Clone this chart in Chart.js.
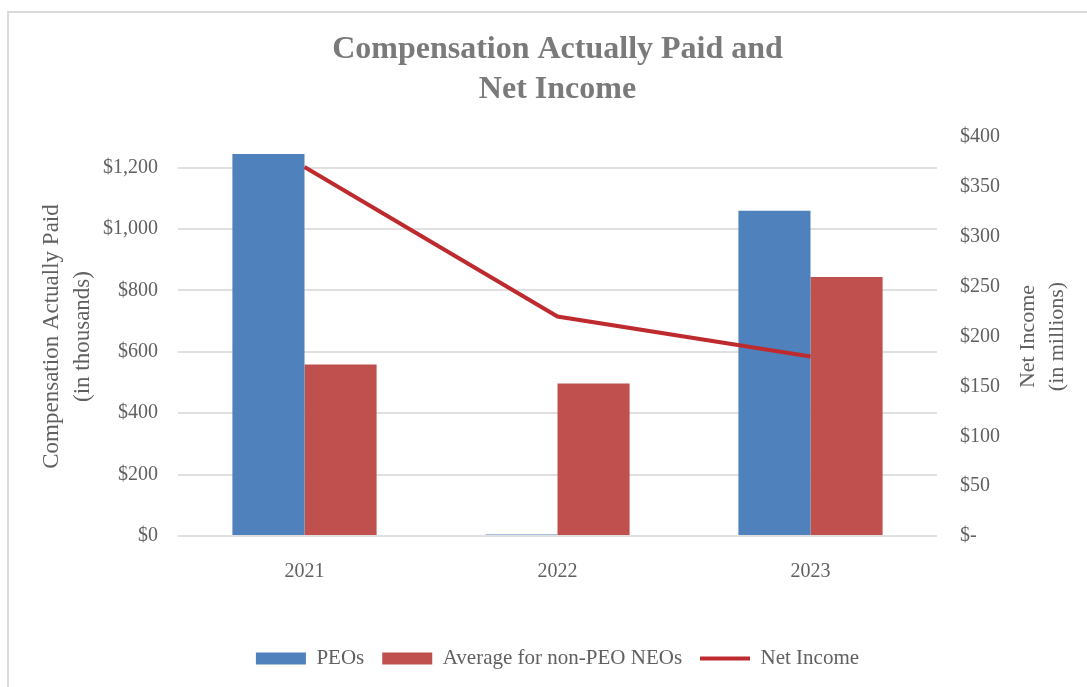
<!DOCTYPE html>
<html>
<head>
<meta charset="utf-8">
<title>Compensation Actually Paid and Net Income</title>
<script src="https://cdn.jsdelivr.net/npm/chart.js@4"></script>
<style>
    html, body { margin: 0; padding: 0; background: #fff; }
    #wrap { position: relative; width: 1087px; height: 687px; overflow: hidden; }
    #frame { position: absolute; left: 7px; top: 11px; width: 1100px; height: 700px; border: 2px solid #dadada; box-sizing: border-box; pointer-events: none; }
    canvas { position: absolute; left: 0; top: 0; }
</style>
</head>
<body>
<div id="wrap">
    <canvas id="capChart" width="1087" height="687"></canvas>
    <div id="frame"></div>
</div>
<script>
// data
const years = ["2021", "2022", "2023"];
const peoCap = [1245, 5, 1060];          // $ thousands
const neoAvgCap = [559, 497, 844];       // $ thousands
const netIncome = [370, 220, 180];       // $ millions

const leftTicksMax = 1200;
const fontFamily = "'Liberation Serif', 'Times New Roman', serif";
const textGray = "#606060";

// axis titles rotated bottom-to-top on both sides
const axisTitles = {
    id: "axisTitles",
    afterDraw(chart) {
        const ctx = chart.ctx;
        const area = chart.chartArea;
        const midY = (area.top + area.bottom) / 2;
        const drawRot = (x, text, size) => {
            ctx.save();
            ctx.translate(x, midY);
            ctx.rotate(-Math.PI / 2);
            ctx.font = size + "px " + fontFamily;
            ctx.fillStyle = textGray;
            ctx.textAlign = "center";
            ctx.textBaseline = "middle";
            ctx.fillText(text, 0, 0);
            ctx.restore();
        };
        const yl = chart.scales.y.left;
        drawRot(yl + 40, "Compensation Actually Paid", 23);
        drawRot(yl + 71, "(in thousands)", 23);
        const yr = chart.scales.y1.left;
        drawRot(yr + 91, "Net Income", 22);
        drawRot(yr + 120, "(in millions)", 22);
    }
};

new Chart(document.getElementById("capChart"), {
    type: "bar",
    data: {
        labels: years,
        datasets: [{
            label: "PEOs",
            data: peoCap,
            backgroundColor: "#4F81BD",
            yAxisID: "y",
            order: 1
        }, {
            label: "Average for non-PEO NEOs",
            data: neoAvgCap,
            backgroundColor: "#C0504D",
            yAxisID: "y",
            order: 1
        }, {
            type: "line",
            label: "Net Income",
            data: netIncome,
            borderColor: "#BE2B2F",
            backgroundColor: "#BE2B2F",
            borderWidth: 4,
            pointRadius: 0,
            tension: 0,
            yAxisID: "y1",
            order: 0
        }]
    },
    options: {
        responsive: false,
        animation: false,
        devicePixelRatio: 1,
        categoryPercentage: 0.57,
        barPercentage: 1,
        layout: { padding: { left: 12, right: 0, top: 0, bottom: 8 } },
        plugins: {
            tooltip: { enabled: false },
            title: {
                display: true,
                fullSize: false,
                text: ["Compensation Actually Paid and", "Net Income"],
                color: "#7a7a7a",
                font: { family: fontFamily, size: 32, weight: "bold", lineHeight: 1.25 },
                padding: { top: 30, bottom: 27 }
            },
            legend: {
                position: "bottom",
                fullSize: false,
                labels: {
                    usePointStyle: true,
                    pointStyleWidth: 50,
                    boxHeight: 12,
                    padding: 18,
                    color: textGray,
                    font: { family: fontFamily, size: 21 },
                    generateLabels(chart) {
                        const items = Chart.defaults.plugins.legend.labels.generateLabels(chart);
                        items.sort((a, b) => a.datasetIndex - b.datasetIndex);
                        items.forEach(it => {
                            it.pointStyle = it.datasetIndex === 2 ? "line" : "rect";
                        });
                        return items;
                    }
                }
            }
        },
        scales: {
            x: {
                grid: { display: false },
                border: { display: false },
                ticks: { color: textGray, font: { family: fontFamily, size: 20 }, padding: 16 },
                afterFit(scale) { scale.height = 94; }
            },
            y: {
                position: "left",
                min: 0,
                max: 1300,
                grid: { color: "#e0e0e0", lineWidth: 2, drawTicks: false },
                border: { display: false },
                ticks: {
                    stepSize: 200,
                    padding: 20,
                    color: textGray,
                    font: { family: fontFamily, size: 20 },
                    callback: v => "$" + v.toLocaleString("en-US")
                },
                afterBuildTicks(scale) {
                    scale.ticks = scale.ticks.filter(t => t.value <= leftTicksMax);
                },
                afterFit(scale) { scale.width = 166; }
            },
            y1: {
                position: "right",
                min: 0,
                max: 400,
                grid: { display: false, drawTicks: false },
                border: { display: false },
                ticks: {
                    stepSize: 50,
                    padding: 23,
                    color: textGray,
                    font: { family: fontFamily, size: 20 },
                    callback: v => v === 0 ? "$-" : "$" + v
                },
                afterFit(scale) { scale.width = 150; }
            }
        }
    },
    plugins: [axisTitles]
});
</script>
</body>
</html>
